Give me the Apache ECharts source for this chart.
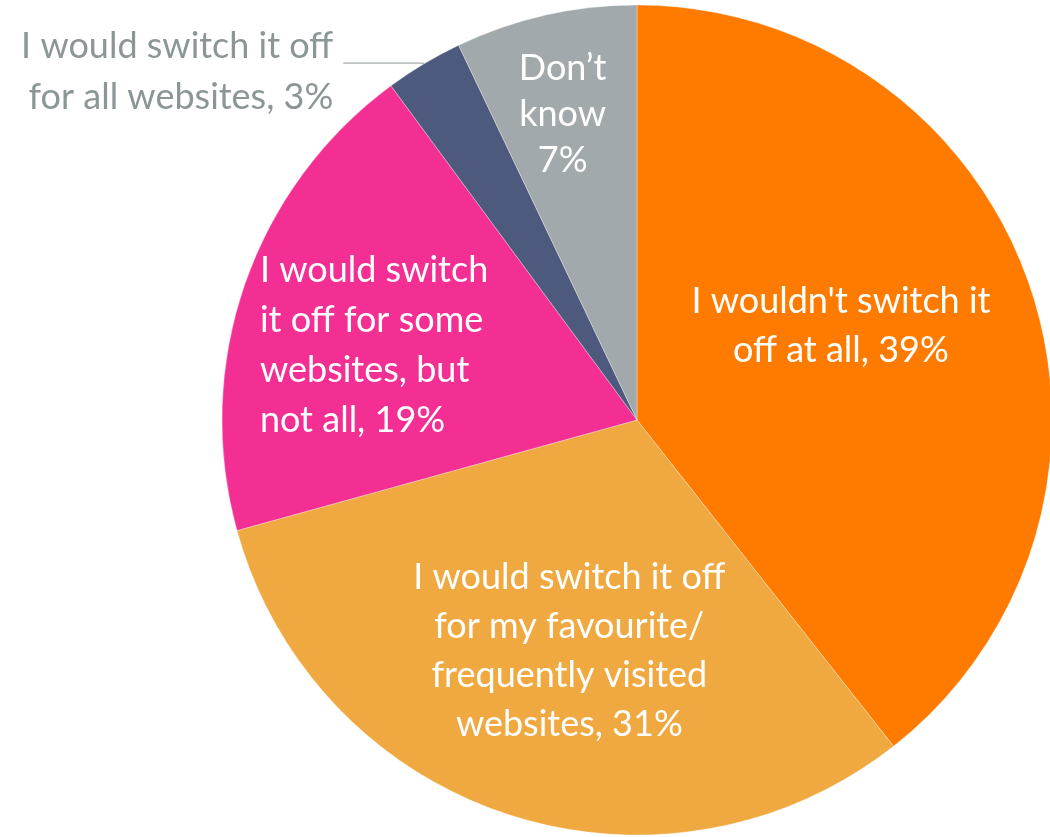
<!DOCTYPE html>
<html>
<head>
<meta charset="utf-8">
<script src="https://cdn.jsdelivr.net/npm/echarts@6/dist/echarts.min.js"></script>
<style>
  html, body { margin: 0; padding: 0; background: #ffffff; }
  #chart { width: 1050px; height: 837px; }
</style>
</head>
<body>
<div id="chart"></div>
<script>
// Survey answers, clockwise from 12 o'clock
const categories = [
  "I wouldn't switch it off at all",
  "I would switch it off for my favourite/frequently visited websites",
  "I would switch it off for some websites, but not all",
  "I would switch it off for all websites",
  "Don\u2019t know"
];
const values = [39, 31, 19, 3, 7];
// Label text per slice; the percentage is appended from values
const labelHeads = [
  "I wouldn't switch it\noff at all, ",
  "I would switch it off\nfor my favourite/\nfrequently visited\nwebsites, ",
  "I would switch\nit off for some\nwebsites, but\nnot all, ",
  "I would switch it off\nfor all websites, ",
  "Don\u2019t\nknow\n"
];
const colors = ['#FF7B00', '#EFA940', '#F42F93', '#4D5A7E', '#A2A9AC'];

const FONT = 'Lato';
const insideLabel = (extra) => Object.assign({
  show: true,
  position: 'inner',
  color: '#ffffff',
  fontFamily: FONT,
  fontSize: 36,
  lineHeight: 49
}, extra);

// Wrap every line in a left-aligned rich token
const leftLines = (text) => text.split('\n').map(l => '{l|' + l + '}').join('\n');

const labelStyles = [
  insideLabel({ offset: [5, -25] }),
  insideLabel({ offset: [-2, 31] }),
  insideLabel({
    lineHeight: 50,
    offset: [-64, -6],
    rich: { l: { align: 'left', color: '#ffffff', fontFamily: FONT, fontSize: 36, lineHeight: 50 } }
  }),
  {
    show: true,
    position: 'outside',
    color: '#8C9697',
    fontFamily: FONT,
    fontSize: 36,
    lineHeight: 51,
    align: 'right',
    distanceToLabelLine: 10,
    offset: [0, 9]
  },
  insideLabel({ lineHeight: 46, offset: [-28, -100] })
];

const chart = echarts.init(document.getElementById('chart'), null, { renderer: 'canvas' });
chart.setOption({
  backgroundColor: '#ffffff',
  animation: false,
  series: [{
    type: 'pie',
    center: [637, 420],
    radius: 415,
    startAngle: 90,
    clockwise: true,
    avoidLabelOverlap: false,
    itemStyle: { borderColor: 'rgba(255,255,255,0.6)', borderWidth: 0.5 },
    labelLine: {
      show: true,
      length: 1,
      length2: 80,
      smooth: false,
      lineStyle: { color: '#8C9697', width: 1 }
    },
    data: categories.map((name, i) => {
      const text = labelHeads[i] + values[i] + '%';
      return {
        name: name,
        value: values[i],
        itemStyle: { color: colors[i] },
        label: Object.assign({ formatter: i === 2 ? leftLines(text) : text }, labelStyles[i]),
        labelLine: { show: i === 3 }
      };
    })
  }]
});
</script>
</body>
</html>
